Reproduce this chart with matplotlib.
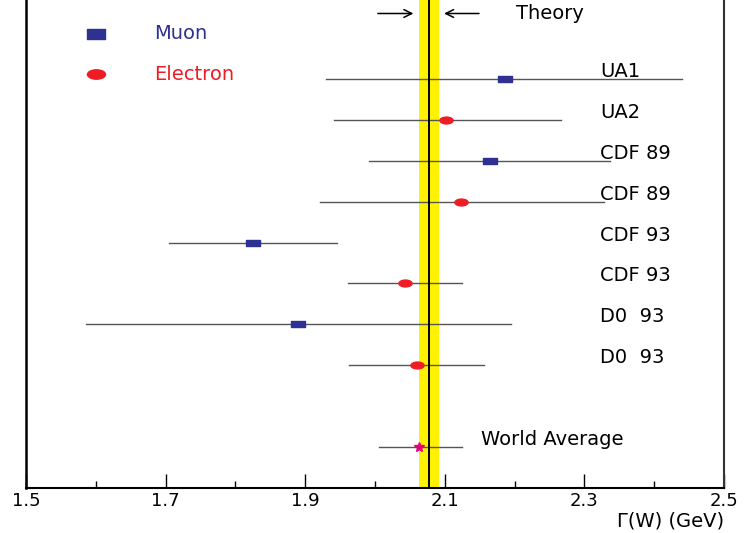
import matplotlib
matplotlib.use("Agg")
import matplotlib.pyplot as plt
from matplotlib.path import Path
from matplotlib.transforms import Affine2D
from matplotlib.ticker import MultipleLocator, FixedLocator

# W width measurements: row label, lepton channel, central value, error range
labels = ["UA1", "UA2", "CDF 89", "CDF 89", "CDF 93", "CDF 93", "D0  93", "D0  93"]
channels = ["mu", "e", "mu", "e", "mu", "e", "mu", "e"]
values = [2.186, 2.102, 2.165, 2.123, 1.825, 2.043, 1.890, 2.060]
lows = [1.930, 1.941, 1.991, 1.921, 1.705, 1.961, 1.586, 1.963]
highs = [2.440, 2.266, 2.337, 2.328, 1.946, 2.125, 2.195, 2.156]

# world average
wa_value = 2.063
wa_low = 2.006
wa_high = 2.125

# theory prediction and band
theory = 2.077
theory_low = 2.063
theory_high = 2.092

blue = "#2e3192"
red = "#ee1c24"
pink = "#e6007e"

# wide flat markers
rect = Path([(-1, -0.5), (1, -0.5), (1, 0.5), (-1, 0.5), (-1, -0.5)],
            [Path.MOVETO, Path.LINETO, Path.LINETO, Path.LINETO, Path.CLOSEPOLY])
ellipse = Affine2D().scale(1.0, 0.52).transform_path(Path.unit_circle())

fig = plt.figure(figsize=(7.45, 5.33), dpi=100)
ax = fig.add_axes([26 / 745, 45 / 533, 698 / 745, 488 / 533])

ax.set_xlim(1.5, 2.5)
ax.set_ylim(10.0, -1.93)

ax.axvspan(theory_low, theory_high, color="#fff200", zorder=1, lw=0)
ax.axvline(theory, color="black", lw=1.4, zorder=4)

for i in range(len(values)):
    ax.plot([lows[i], highs[i]], [i, i], color="#555555", lw=1.0, zorder=3)
    if channels[i] == "mu":
        ax.plot(values[i], i, marker=rect, ms=9.5, color=blue, mec=blue, zorder=5)
    else:
        ax.plot(values[i], i, marker=ellipse, ms=9.5, color=red, mec=red, zorder=5)
    ax.text(2.322, i - 0.05, labels[i], fontsize=14, va="baseline", ha="left")

wa_row = 9
ax.plot([wa_low, wa_high], [wa_row, wa_row], color="#555555", lw=1.0, zorder=3)
ax.plot(wa_value, wa_row, marker="*", ms=7, color=pink, mec=pink, zorder=5)
ax.text(2.152, wa_row - 0.05, "World Average", fontsize=14, va="baseline", ha="left")

# theory arrows pointing at the band
ty = -1.6
ax.annotate("", xy=(2.059, ty), xytext=(2.000, ty),
            arrowprops=dict(arrowstyle="->", lw=1.1, color="black", mutation_scale=14))
ax.annotate("", xy=(2.095, ty), xytext=(2.153, ty),
            arrowprops=dict(arrowstyle="->", lw=1.1, color="black", mutation_scale=14))
ax.text(2.202, ty, "Theory", fontsize=14, va="center", ha="left")

# legend drawn by hand
ax.plot(1.600, -1.1, marker=rect, ms=13, color=blue, mec=blue)
ax.text(1.683, -1.1, "Muon", fontsize=14, color=blue, va="center", ha="left")
ax.plot(1.600, -0.12, marker=ellipse, ms=13, color=red, mec=red)
ax.text(1.683, -0.12, "Electron", fontsize=14, color=red, va="center", ha="left")

ax.xaxis.set_major_locator(FixedLocator([1.5, 1.7, 1.9, 2.1, 2.3, 2.5]))
ax.xaxis.set_minor_locator(MultipleLocator(0.1))
ax.tick_params(axis="x", which="major", direction="in", length=10, width=1.0,
               labelsize=13, pad=3)
ax.tick_params(axis="x", which="minor", direction="in", length=5, width=1.0)
ax.set_yticks([])
ax.spines["top"].set_visible(False)
ax.spines["left"].set_linewidth(1.8)
ax.spines["bottom"].set_linewidth(1.5)
ax.spines["right"].set_linewidth(1.5)
ax.spines["right"].set_color("#333333")

ax.set_xlabel("Γ(W) (GeV)", fontsize=14, loc="right", labelpad=1)

fig.savefig("out.png", dpi=100)
